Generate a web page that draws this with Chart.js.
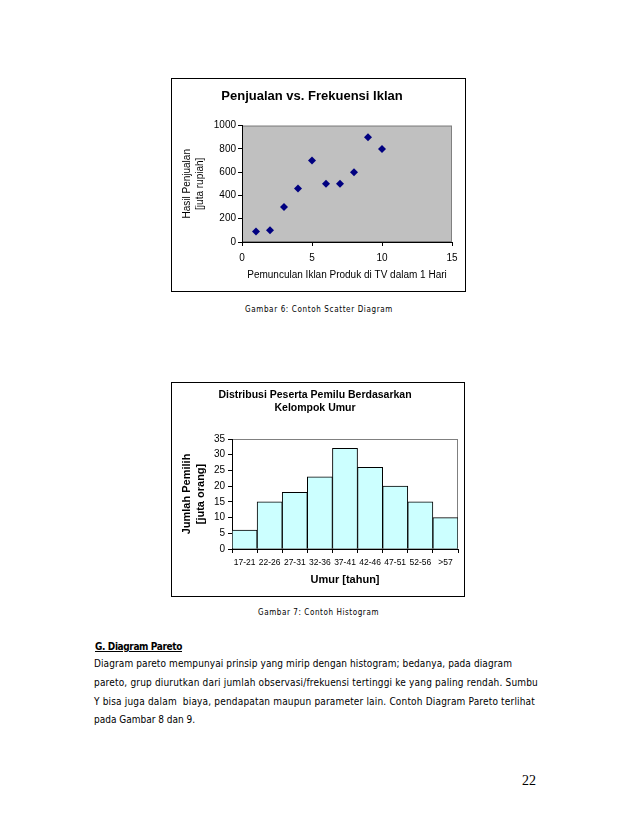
<!DOCTYPE html>
<html>
<head>
<meta charset="utf-8">
<script src="https://cdn.jsdelivr.net/npm/chart.js@4.4.0/dist/chart.umd.min.js"></script>
<style>
body { margin: 0; background: #fff; }
.page { position: relative; width: 638px; height: 826px; overflow: hidden; }
.box { position: absolute; border: 1px solid #000; }
.box canvas { display: block; }
.txt { position: absolute; white-space: pre; color: #000; line-height: 1;
       font-family: "DejaVu Sans Condensed", "DejaVu Sans", sans-serif; }
</style>
</head>
<body>
<div class="page">
  <div class="box" style="left:171px;top:78px;width:293px;height:212px;">
    <canvas id="scatterChart" width="293" height="212"></canvas>
  </div>
  <div class="txt" data-w="148" style="left:245px;top:306px;font-size:8px;">Gambar 6: Contoh Scatter Diagram</div>

  <div class="box" style="left:171px;top:382px;width:292px;height:213px;">
    <canvas id="histChart" width="292" height="213"></canvas>
  </div>
  <div class="txt" data-w="121" style="left:258px;top:609px;font-size:8px;">Gambar 7: Contoh Histogram</div>

  <div class="txt" data-w="87" style="left:95px;top:642px;font-size:10px;font-weight:bold;text-decoration:underline;">G. Diagram Pareto</div>
  <div class="txt" data-w="418" style="left:94px;top:659px;font-size:10px;">Diagram pareto mempunyai prinsip yang mirip dengan histogram; bedanya, pada diagram</div>
  <div class="txt" data-w="444" style="left:94px;top:678px;font-size:10px;">pareto, grup diurutkan dari jumlah observasi/frekuensi tertinggi ke yang paling rendah. Sumbu</div>
  <div class="txt" data-w="441" style="left:94px;top:697px;font-size:10px;">Y bisa juga dalam  biaya, pendapatan maupun parameter lain. Contoh Diagram Pareto terlihat</div>
  <div class="txt" data-w="101" style="left:94px;top:715px;font-size:10px;">pada Gambar 8 dan 9.</div>

  <div class="txt" style="left:522px;top:774px;font-size:14px;font-family:'Liberation Serif',serif;">22</div>
</div>

<script>
// Data scatter: frekuensi iklan vs hasil penjualan
const adFrequency = [1, 2, 3, 4, 5, 6, 7, 8, 9, 10];
const salesValues = [90, 100, 300, 460, 700, 500, 500, 600, 900, 800];

// Data histogram: kelompok umur vs jumlah pemilih
const ageGroups = ['17-21', '22-26', '27-31', '32-36', '37-41', '42-46', '47-51', '52-56', '>57'];
const voterCounts = [6, 15, 18, 23, 32, 26, 20, 15, 10];

// Ajuster l'espacement des lettres pour que chaque ligne ait la bonne largeur
document.querySelectorAll('.txt[data-w]').forEach(el => {
    const target = parseFloat(el.dataset.w);
    const natural = el.getBoundingClientRect().width;
    el.style.letterSpacing = ((target - natural) / el.textContent.length) + 'px';
});

Chart.defaults.color = '#000';
Chart.defaults.font.family = '"Liberation Sans", Arial, sans-serif';

// Fond de la zone de tracé
const plotAreaBackground = {
    id: 'plotAreaBackground',
    beforeDraw(chart, args, opts) {
        const { ctx, chartArea: { left, top, width, height } } = chart;
        ctx.save();
        ctx.fillStyle = opts.color;
        ctx.fillRect(left, top, width, height);
        ctx.strokeStyle = opts.borderColor;
        ctx.lineWidth = 1;
        ctx.strokeRect(left + 0.5, top + 0.5, width - 1, height - 1);
        ctx.restore();
    }
};

const tickGrid = { drawOnChartArea: false, drawTicks: true, tickLength: 4, color: '#000' };
const plainNumber = value => String(value);

// Scatter diagram
new Chart(document.getElementById('scatterChart'), {
    type: 'scatter',
    data: {
        datasets: [{
            data: adFrequency.map((x, i) => ({ x: x, y: salesValues[i] })),
            pointStyle: 'rectRot',
            pointRadius: 4,
            backgroundColor: '#000080',
            borderColor: '#000080',
            borderWidth: 0
        }]
    },
    options: {
        responsive: false,
        animation: false,
        layout: { padding: { right: 13 } },
        plugins: {
            legend: { display: false },
            tooltip: { enabled: false },
            title: {
                display: true,
                text: 'Penjualan vs. Frekuensi Iklan',
                font: { size: 13, weight: 'bold' },
                padding: { top: 10, bottom: 21 }
            },
            plotAreaBackground: { color: '#c0c0c0', borderColor: '#808080' }
        },
        scales: {
            x: {
                type: 'linear',
                min: 0,
                max: 15,
                ticks: { stepSize: 5, padding: 6, font: { size: 10 }, callback: plainNumber },
                grid: tickGrid,
                border: { color: '#000' },
                title: {
                    display: true,
                    text: 'Pemunculan Iklan Produk di TV dalam 1 Hari',
                    font: { size: 10 },
                    padding: { top: 0, bottom: 10 }
                },
                afterFit(scale) { scale.height = 49; }
            },
            y: {
                min: 0,
                max: 1000,
                ticks: { stepSize: 200, padding: 2, font: { size: 10 }, callback: plainNumber },
                grid: tickGrid,
                border: { color: '#000' },
                title: {
                    display: true,
                    text: ['Hasil Penjualan', '[juta rupiah]'],
                    font: { size: 10, lineHeight: 1.3 },
                    padding: { top: 8.5, bottom: 0 }
                },
                afterFit(scale) { scale.width = 70; }
            }
        }
    },
    plugins: [plotAreaBackground]
});

// Histogram
new Chart(document.getElementById('histChart'), {
    type: 'bar',
    data: {
        labels: ageGroups,
        datasets: [{
            data: voterCounts,
            backgroundColor: '#ccffff',
            borderColor: '#000',
            borderWidth: 1,
            categoryPercentage: 1,
            barPercentage: 1
        }]
    },
    options: {
        responsive: false,
        animation: false,
        layout: { padding: { right: 6 } },
        plugins: {
            legend: { display: false },
            tooltip: { enabled: false },
            title: {
                display: true,
                text: ['Distribusi Peserta Pemilu Berdasarkan', 'Kelompok Umur'],
                font: { size: 10.5, weight: 'bold', lineHeight: 13 / 10.5 },
                padding: { top: 5.5, bottom: 24.5 }
            },
            plotAreaBackground: { color: '#fff', borderColor: '#808080' }
        },
        scales: {
            x: {
                ticks: { padding: 5, font: { size: 8.5 }, maxRotation: 0, autoSkip: false },
                grid: Object.assign({ offset: true }, tickGrid),
                border: { color: '#000' },
                title: {
                    display: true,
                    text: 'Umur [tahun]',
                    font: { size: 11, weight: 'bold' },
                    padding: { top: 0, bottom: 9.5 }
                },
                afterFit(scale) { scale.height = 47; }
            },
            y: {
                min: 0,
                max: 35,
                ticks: { stepSize: 5, padding: 3, font: { size: 10 } },
                grid: tickGrid,
                border: { color: '#000' },
                title: {
                    display: true,
                    text: ['Jumlah Pemilih', '[juta orang]'],
                    font: { size: 11, weight: 'bold', lineHeight: 14 / 11 },
                    padding: { top: 7.7, bottom: 0 }
                },
                afterFit(scale) { scale.width = 60; }
            }
        }
    },
    plugins: [plotAreaBackground]
});
</script>
</body>
</html>
